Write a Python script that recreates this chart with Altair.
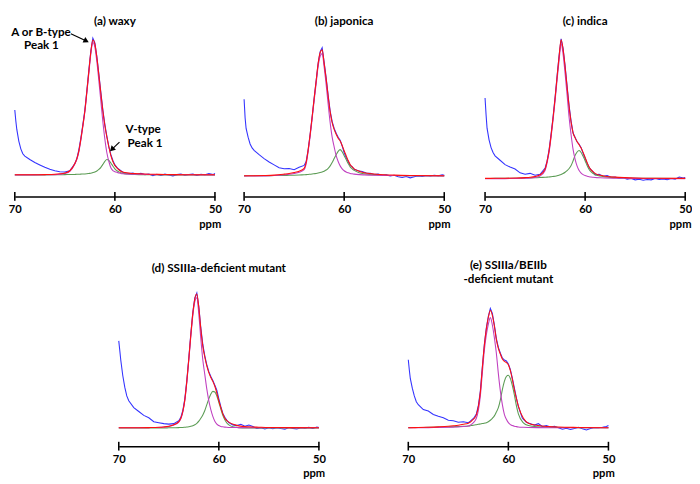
import altair as alt
import pandas as pd

FONT = "Lato"

# ---- shared ppm grids -------------------------------------------------------
FIT_X = [70, 69, 68, 67, 66, 65.5, 65, 64.5,
         64, 63.8, 63.6, 63.4, 63.2, 63, 62.8, 62.6, 62.4, 62.2,
         62, 61.8, 61.6, 61.4, 61.2, 61, 60.8, 60.6, 60.4, 60.2, 60,
         59.8, 59.6, 59.4, 59.2, 59,
         58.5, 58, 57, 56, 55, 53, 50]

BLUE_X = [70, 69.9, 69.8, 69.6, 69.4, 69.2, 69, 68.5, 68, 67.5, 67, 66.5, 66, 65.5, 65, 64.5,
          64, 63.8, 63.6, 63.4, 63.2, 63, 62.8, 62.6, 62.4, 62.2,
          62, 61.8, 61.6, 61.4, 61.2, 61, 60.8, 60.6, 60.4, 60.2, 60,
          59.8, 59.6, 59.4, 59.2, 59,
          58.6, 58.2, 57.8, 57.4, 57, 56.6, 56.2, 55.8, 55.4, 55,
          54.6, 54.2, 53.8, 53.4, 53, 52.6, 52.2, 51.8, 51.4, 51, 50.6, 50.2, 50]

TICKS = [70, 60, 50]

# ---- (a) waxy ---------------------------------------------------------------
A_RED = [0.3, 0.3, 0.4, 0.5, 0.8, 1.3, 2.2, 4.5,
         12, 17, 25, 37, 51, 66, 86, 107, 127, 139,
         135, 121, 103, 84, 66, 51, 39, 29, 20, 14, 10,
         7.5, 5.5, 4, 3.2, 2.7,
         2, 1.6, 1.1, 0.8, 0.6, 0.4, 0.3]
A_MAG = [0.2, 0.2, 0.2, 0.3, 0.5, 0.9, 1.7, 3.9,
         11.3, 16.2, 24, 36, 50, 65, 84.6, 105, 125, 136.4,
         131.7, 116.7, 97, 76, 55, 37, 23, 14, 7.5, 4.7, 3.5,
         2.9, 2.2, 1.6, 1.3, 1.2,
         1.0, 0.9, 0.7, 0.5, 0.4, 0.3, 0.2]
A_GRN = [0.1, 0.1, 0.2, 0.2, 0.3, 0.4, 0.5, 0.6,
         0.7, 0.8, 0.9, 1.0, 1.1, 1.2, 1.4, 1.7, 2.0, 2.6,
         3.3, 4.3, 5.8, 8.0, 11, 14.2, 16, 15, 12.5, 9.3, 6.5,
         4.6, 3.3, 2.4, 1.9, 1.5,
         1.0, 0.7, 0.4, 0.3, 0.2, 0.1, 0.1]
A_BLUE = [67, 56, 47, 35, 27, 22, 19.5, 16, 13, 10.5, 8, 6, 4.5, 3.5, 3.2, 4.5,
          12, 17, 26, 38, 52, 67, 87, 108, 128, 141,
          136, 122, 104, 85, 67, 52, 40, 29, 21, 15, 10.5,
          8, 6, 4.5, 3, 2.5,
          1.5, 2.2, 0.8, 1.8, 0.5, 1.2, -0.5, 0.8, -0.3, 1.0,
          0.2, -0.8, 0.5, 1.2, -0.2, 0.6, 1.0, -0.4, 0.8, 0.3, 1.5, 0.5, 1.8]

# ---- (b) japonica -----------------------------------------------------------
B_RED = [0.3, 0.4, 0.6, 1.0, 2.0, 2.6, 3.6, 5,
         8, 14, 27, 43, 61, 80, 98, 116, 127, 130,
         116, 100, 82, 66, 55, 48, 43, 39, 36, 31.5, 26,
         21, 16, 12, 9.5, 7.5,
         5, 3.5, 2.2, 1.4, 1.0, 0.6, 0.3]
B_MAG = [0.1, 0.1, 0.2, 0.5, 1.3, 1.8, 2.7, 3.9,
         6.6, 12.5, 25.3, 41, 59, 77.6, 95.3, 113, 123.4, 126,
         112, 94, 74, 55, 40, 30, 21, 15, 10.5, 7.5, 5.5,
         4.2, 3.3, 2.7, 2.3, 2.0,
         1.5, 1.2, 0.8, 0.6, 0.5, 0.3, 0.2]
B_GRN = [0.2, 0.3, 0.4, 0.5, 0.7, 0.8, 0.9, 1.1,
         1.4, 1.5, 1.7, 1.9, 2.1, 2.4, 2.7, 3.1, 3.6, 4.2,
         5, 6.2, 8, 10.5, 14, 18, 22, 25.5, 27.2, 25, 21,
         17, 13, 9.5, 7.5, 5.8,
         3.5, 2.3, 1.3, 0.8, 0.5, 0.3, 0.2]
B_BLUE = [79, 60, 49, 40, 33, 29, 26.5, 22, 18, 14.5, 11.5, 8.5, 7.5, 7.8, 6.5, 9,
          11, 15, 27, 43, 61, 80, 98, 116, 128, 132,
          117, 101, 83, 67, 56, 49, 44, 40, 37, 31, 24,
          19, 15, 11, 9.5, 7,
          5.5, 4.8, 3.2, 3.0, 1.5, 2.0, 0.8, 1.2, 0.2, 0.8,
          -0.8, -1.5, -0.5, -1.8, -0.6, 0.2, -0.3, 0.6, 0.1, 0.9, 0.4, 1.3, 0.8]

# ---- (c) indica -------------------------------------------------------------
C_RED = [0.3, 0.4, 0.5, 0.7, 1.1, 1.5, 2.3, 4,
         10, 18, 29, 45, 63, 83, 105, 126, 143, 133,
         115, 94, 74, 58, 47, 42, 38, 35, 31.5, 27, 22,
         16.5, 12, 9, 7, 5.5,
         3.5, 2.6, 1.6, 1.1, 0.8, 0.5, 0.3]
C_MAG = [0.1, 0.1, 0.1, 0.2, 0.4, 0.7, 1.3, 2.8,
         8.5, 16.4, 27.2, 43, 60.7, 80.4, 102, 122, 139, 128,
         108, 86, 63, 45, 30, 20, 13, 8.5, 5.8, 4.2, 3.2,
         2.6, 2.1, 1.7, 1.4, 1.2,
         0.9, 0.7, 0.5, 0.4, 0.3, 0.2, 0.1]
C_GRN = [0.2, 0.3, 0.4, 0.5, 0.7, 0.8, 1.0, 1.2,
         1.5, 1.6, 1.8, 2.0, 2.3, 2.6, 3.0, 3.6, 4.3, 5.3,
         6.6, 8.3, 10.5, 13.5, 18.5, 24, 27.5, 29, 27, 23, 18.5,
         13.5, 9.5, 7, 5.3, 4.1,
         2.8, 1.8, 1.0, 0.6, 0.4, 0.3, 0.2]
C_BLUE = [83, 66, 52, 40, 32, 27, 23.5, 19, 14.5, 12, 10, 6, 4.5, 5.5, 3.5, 4.5,
          11, 18, 30, 46, 64, 84, 106, 127, 144, 134,
          116, 95, 75, 59, 47, 42.5, 38, 35.5, 32, 26, 21,
          16, 11.5, 9, 7, 4,
          4.5, 2.5, 3.2, 1.5, 1.8, 0.5, 0.9, -0.5, 0.3, -1.2,
          -0.5, -1.6, -0.8, -1.2, 0.1, -0.9, -0.2, -1.0, 0.2, -0.6, 1.8, 0.8, 1.2]

# ---- (d) SSIIIa-deficient mutant ---------------------------------------------
D_RED = [0.3, 0.3, 0.3, 0.4, 0.7, 1.1, 1.8, 3.4,
         6.5, 10, 17, 29, 48, 71, 96, 118, 133, 138,
         124, 102, 84, 73, 64, 57, 52, 48, 43, 36, 28,
         21, 14.5, 10, 7.5, 6,
         3.5, 2.2, 1.2, 0.8, 0.5, 0.4, 0.3]
D_MAG = [0.3, 0.3, 0.3, 0.4, 0.6, 1.0, 1.6, 3.1,
         6.1, 9.5, 16.4, 28, 47, 70, 94, 115.7, 130, 134,
         117, 92, 70, 55, 40, 28, 19, 12, 7, 4, 2.5,
         1.6, 1.2, 0.9, 0.7, 0.6,
         0.5, 0.4, 0.3, 0.3, 0.3, 0.3, 0.3]
D_GRN = [0, 0, 0, 0, 0.1, 0.1, 0.2, 0.3,
         0.4, 0.5, 0.6, 0.8, 1.0, 1.3, 1.7, 2.3, 3.3, 4.8,
         7, 10, 13.5, 18, 24, 30, 35, 37.7, 37, 33, 26.5,
         19.5, 13, 8.5, 5.2, 3.2,
         1.0, 0.4, 0.1, 0, 0, 0, 0]
D_BLUE = [89.7, 80, 70, 54, 42, 33, 28, 21, 17, 13, 10.5, 6.5, 5.5, 4.5, 4, 4.5,
          7.5, 11, 18, 30, 49, 72, 97, 119, 134, 139,
          125, 103, 86, 74, 65, 58, 53, 49, 44, 39, 30,
          22, 15, 11, 8, 5.5,
          3.2, 2.5, 3.8, 1.8, 3.0, 1.5, -0.5, 0.3, -1.0, 0.2,
          -0.8, 0.4, -0.6, -1.2, 0.5, -0.4, -1.0, 0.2, -0.3, 0.6, -0.5, 1.0, 0.4]

# ---- (e) SSIIIa/BEIIb-deficient mutant ---------------------------------------
E_RED = [0.3, 0.5, 0.8, 1.2, 1.8, 2.3, 2.9, 3.8,
         5, 6, 8, 10, 13.5, 22, 37, 62, 85, 102,
         114, 121, 116, 105, 91, 82, 76, 71, 68.5, 67.5, 65,
         59, 50, 39.5, 30.5, 22.5,
         10, 5, 2.5, 1.5, 1.0, 0.6, 0.3]
E_MAG = [0.2, 0.3, 0.4, 0.5, 0.7, 0.9, 1.1, 1.5,
         2.0, 3.0, 4.5, 6.5, 10, 18, 33, 57, 80, 96,
         107, 113.6, 106, 93, 77, 56, 38, 24, 14, 9, 5.5,
         3.5, 2.5, 1.8, 1.4, 1.1,
         0.8, 0.6, 0.4, 0.3, 0.3, 0.2, 0.2]
E_GRN = [0.4, 0.5, 0.7, 0.9, 1.1, 1.3, 1.5, 1.7,
         2.0, 2.3, 2.7, 3.0, 3.4, 3.8, 4.2, 4.6, 5.0, 5.5,
         6.5, 8, 10, 12.5, 16.5, 21, 29, 39.5, 48, 53, 54.3,
         51, 43.5, 34, 23, 14.5,
         5.3, 2.5, 1.2, 0.8, 0.6, 0.4, 0.3]
E_BLUE = [70.3, 60, 51, 41, 33, 27, 24, 19, 17.5, 14, 12, 10.5, 8, 7.5, 6, 6.5,
          5.5, 7, 9, 11, 14.5, 23, 38, 63, 86, 103,
          115, 123, 118, 106, 92, 83, 77, 72, 70, 69, 66,
          60, 51, 41, 31, 22,
          10, 6, 4.5, 3, 4.5, 1.5, 2.5, 1.0, 1.8, 0.2,
          -1.2, -0.3, -1.5, -0.5, 0.8, -0.8, -2.0, -0.6, 0.5, 0.2, 0.8, 1.5, 2.5]

# ---- annotations for panel (a) -------------------------------------------------
ANN_TEXT = ["A or B-type", "Peak 1", "V-type", "Peak 1"]
ANN_PPM = [67.38, 67.34, 57.18, 56.99]
ANN_V = [147, 133.5, 47, 33]
ARROW1_PPM = [64.4, 62.85]
ARROW1_V = [145.5, 138]
ARROW2_PPM = [59.54, 60.3]
ARROW2_V = [34, 26.5]

COLORS = {"blue": "#3333ff", "red": "#ff1010", "mag": "#c040c0", "green": "#5c9c55"}

W = 206


def make_panel(title, red, mag, green, blue, ylo, yhi, height, title_offset,
               annotate=False):
    xsc = alt.Scale(domain=[50, 70], reverse=True, nice=False, zero=False)
    ysc = alt.Scale(domain=[ylo, yhi], nice=False, zero=False)
    x_axis = alt.Axis(values=TICKS, grid=False, ticks=False, tickSize=0,
                      domain=True, domainColor="black", domainWidth=1.6,
                      labelFont=FONT, labelFontSize=11.5, labelFontWeight="bold",
                      labelColor="black", labelFlush=False, labelBaseline="alphabetic",
                      labelPadding=17, format="d",
                      title="ppm", titleFont=FONT, titleFontSize=11.5,
                      titleFontWeight="bold", titleColor="black",
                      titleX=W + 6, titleY=31.5, titleAlign="right",
                      titleBaseline="alphabetic")
    X = alt.X("ppm:Q", scale=xsc, axis=x_axis)
    Y = alt.Y("v:Q", scale=ysc, axis=None)

    fit = pd.DataFrame({"ppm": FIT_X, "red": red, "mag": mag, "green": green})
    bl = pd.DataFrame({"ppm": BLUE_X, "v": blue})

    def fit_line(col):
        d = fit[["ppm", col]].rename(columns={col: "v"})
        return alt.Chart(d).mark_line(color=COLORS[col], strokeWidth=1.1,
                                      interpolate="monotone").encode(x=X, y=Y)

    blue_l = alt.Chart(bl).mark_line(color=COLORS["blue"], strokeWidth=1.1).encode(x=X, y=Y)

    tk = pd.DataFrame({"ppm": TICKS, "v": [ylo - 4.5] * 3, "v2": [ylo + 4.5] * 3})
    ticks = alt.Chart(tk).mark_rule(color="black", strokeWidth=1.6).encode(
        x=X, y=Y, y2="v2:Q")

    layers = [blue_l, fit_line("green"), fit_line("mag"), fit_line("red"), ticks]

    if annotate:
        ann = pd.DataFrame({"ppm": ANN_PPM, "v": ANN_V, "t": ANN_TEXT})
        layers.append(alt.Chart(ann).mark_text(font=FONT, fontSize=12, fontWeight="bold",
                                               color="black", align="center",
                                               baseline="middle").encode(x=X, y=Y, text="t:N"))
        for px, pv, ang in [(ARROW1_PPM, ARROW1_V, 116), (ARROW2_PPM, ARROW2_V, 225)]:
            ad = pd.DataFrame({"ppm": px, "v": pv})
            layers.append(alt.Chart(ad).mark_line(color="black", strokeWidth=1.2).encode(x=X, y=Y))
            hd = pd.DataFrame({"ppm": [px[-1]], "v": [pv[-1]]})
            layers.append(alt.Chart(hd).mark_point(shape="triangle-up", filled=True,
                                                   color="black", size=40, opacity=1,
                                                   angle=ang).encode(x=X, y=Y))

    return alt.layer(*layers).properties(
        width=W, height=height,
        title=alt.TitleParams(text=title, font=FONT, fontSize=12, fontWeight="bold",
                              color="black", anchor="middle", offset=title_offset,
                              lineHeight=14))


pa = make_panel("(a) waxy", A_RED, A_MAG, A_GRN, A_BLUE, -22, 153, 175, -2, annotate=True)
pb = make_panel("(b) japonica", B_RED, B_MAG, B_GRN, B_BLUE, -21, 154, 175, -2)
pc = make_panel("(c) indica", C_RED, C_MAG, C_GRN, C_BLUE, -18.3, 156.7, 175, -2)
pd_ = make_panel("(d) SSIIIa-deficient  mutant", D_RED, D_MAG, D_GRN, D_BLUE,
                 -18.7, 142.3, 161, 15)
pe = make_panel(["(e) SSIIIa/BEIIb", "-deficient mutant"], E_RED, E_MAG, E_GRN, E_BLUE,
                -18.7, 142.3, 161, 4)

spacer = alt.Chart(pd.DataFrame({"s": [0]})).mark_point(opacity=0).encode(
    x=alt.value(0), y=alt.value(0)).properties(width=100, height=161)

top = alt.hconcat(pa, alt.hconcat(pb, pc, spacing=28), spacing=16)
bottom = alt.hconcat(spacer, alt.hconcat(pd_, pe, spacing=78), spacing=0)

chart = alt.vconcat(top, bottom, spacing=31).properties(
    padding=0,
    background="white",
).configure_view(stroke=None)

chart.save("out.html", embed_options={"renderer": "svg", "actions": False})
